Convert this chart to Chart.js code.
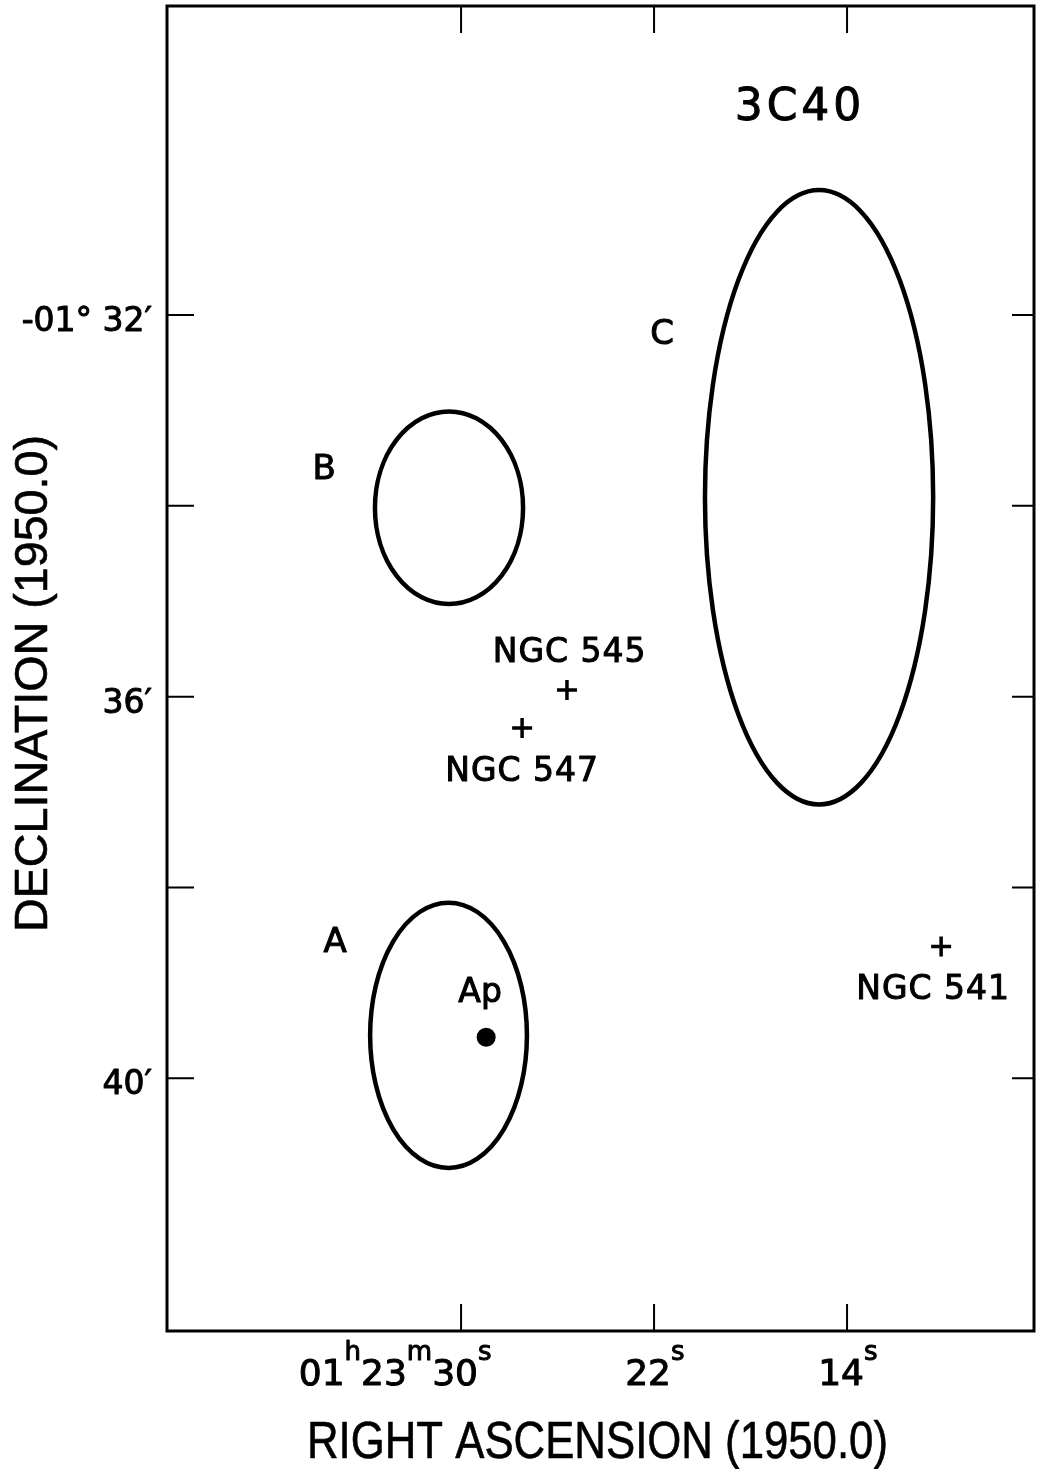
<!DOCTYPE html>
<html>
<head>
<meta charset="utf-8">
<script src="https://cdn.jsdelivr.net/npm/chart.js@4.4.1/dist/chart.umd.min.js"></script>
<style>
  body { margin: 0; background: #fff; }
  canvas { display: block; }
</style>
</head>
<body>
<canvas id="carte" width="1038" height="1469"></canvas>
<script>
// ascension droite : secondes de temps après 01h23m ; déclinaison : minutes d'arc sous -01°
const raTicks = [30, 22, 14];
const raTickLabels = ['01h23m30s', '22s', '14s'];
const decTicks = [32, 34, 36, 38, 40];
const decTickLabels = ['-01° 32′', '', '36′', '', '40′'];

// composantes radio A, B, C : centre et demi-axes
const compNames = ['A', 'B', 'C'];
const compRa = [30.52, 30.50, 15.16];
const compDec = [39.55, 34.02, 33.91];
const compHalfRa = [3.25, 3.07, 4.73];
const compHalfDec = [1.39, 1.01, 3.22];
const compLabelRa = [35.22, 35.68, 21.67];
const compLabelDec = [38.55, 33.59, 32.17];

// galaxies du champ
const ngcNames = ['NGC 545', 'NGC 547', 'NGC 541'];
const ngcRa = [25.61, 27.47, 10.10];
const ngcDec = [35.93, 36.33, 38.62];
const ngcLabelRa = [25.50, 27.47, 10.43];
const ngcLabelDec = [35.51, 36.76, 39.04];

// source ponctuelle Ap
const apRa = [28.96];
const apDec = [39.57];
const apLabel = { text: 'Ap', ra: 29.21, dec: 39.08 };

const sourceName = { text: '3C40', ra: 15.95, dec: 29.79 };

const FONT = '"DejaVu Sans", sans-serif';

// texte un peu épaissi (trait de normographe)
function inkText(ctx, txt, x, y, w) {
    ctx.lineWidth = w || 1;
    ctx.lineJoin = 'round';
    ctx.strokeText(txt, x, y);
    ctx.fillText(txt, x, y);
}

// texte centré sur la hauteur des capitales
function capText(ctx, txt, cx, cy, size, spacing) {
    ctx.font = size + 'px ' + FONT;
    ctx.letterSpacing = (spacing || 0) + 'px';
    ctx.textAlign = 'center';
    ctx.textBaseline = 'alphabetic';
    inkText(ctx, txt, cx, cy + 0.365 * size);
    ctx.letterSpacing = '0px';
}

// titre d'axe resserré horizontalement à une largeur donnée
function titleText(ctx, txt, cx, cy, size, width, angle) {
    ctx.save();
    ctx.translate(cx, cy);
    ctx.rotate(angle);
    ctx.font = size + 'px "Liberation Sans", sans-serif';
    const w = ctx.measureText(txt).width;
    ctx.scale(width / w, 1);
    ctx.textAlign = 'center';
    ctx.textBaseline = 'alphabetic';
    inkText(ctx, txt, 0, 0.36 * size, 0.6);
    ctx.restore();
}

// étiquette RA avec h, m, s en exposant
function raLabel(ctx, label, tickX, baseY) {
    const parts = [];
    label.replace(/(\d+)([hms])/g, (m, num, unit) => { parts.push([num, unit]); });
    const big = '36px ' + FONT, small = '26px ' + FONT;
    const widths = parts.map(([num, unit]) => {
        ctx.font = big; const a = ctx.measureText(num).width;
        ctx.font = small; const b = ctx.measureText(unit).width;
        return [a, b];
    });
    // le dernier nombre est placé sous la graduation
    let offset = 0;
    for (let i = 0; i < parts.length - 1; i++) offset += widths[i][0] + widths[i][1];
    const last = widths[parts.length - 1][0];
    let px = tickX - 6 - offset - last / 2;
    ctx.textAlign = 'left';
    ctx.textBaseline = 'alphabetic';
    parts.forEach(([num, unit], i) => {
        ctx.font = big; inkText(ctx, num, px, baseY);
        px += widths[i][0];
        ctx.font = small; inkText(ctx, unit, px, baseY - 25);
        px += widths[i][1];
    });
}

const cartePlugin = {
    id: 'cartePlugin',
    beforeDraw(chart) {
        const ctx = chart.ctx;
        ctx.save();
        ctx.fillStyle = '#fff';
        ctx.fillRect(0, 0, chart.width, chart.height);
        ctx.restore();
    },
    afterDatasetsDraw(chart) {
        const { ctx, chartArea: a, scales: { x, y } } = chart;
        ctx.save();
        ctx.strokeStyle = '#000';
        ctx.fillStyle = '#000';

        // cadre
        ctx.lineWidth = 3;
        ctx.strokeRect(a.left, a.top, a.right - a.left, a.bottom - a.top);

        // graduations intérieures sur les quatre côtés
        const tl = 27;
        ctx.lineWidth = 2;
        ctx.beginPath();
        raTicks.forEach(v => {
            const px = x.getPixelForValue(v);
            ctx.moveTo(px, a.top); ctx.lineTo(px, a.top + tl);
            ctx.moveTo(px, a.bottom); ctx.lineTo(px, a.bottom - tl);
        });
        decTicks.forEach(v => {
            const py = y.getPixelForValue(v);
            ctx.moveTo(a.left, py); ctx.lineTo(a.left + tl, py);
            ctx.moveTo(a.right, py); ctx.lineTo(a.right - 22, py);
        });
        ctx.stroke();

        // ellipses des composantes
        ctx.lineWidth = 4.5;
        compRa.forEach((ra, i) => {
            const cx = x.getPixelForValue(ra);
            const cy = y.getPixelForValue(compDec[i]);
            const rx = Math.abs(x.getPixelForValue(ra + compHalfRa[i]) - cx);
            const ry = Math.abs(y.getPixelForValue(compDec[i] + compHalfDec[i]) - cy);
            ctx.beginPath();
            ctx.ellipse(cx, cy, rx, ry, 0, 0, 2 * Math.PI);
            ctx.stroke();
        });

        // étiquettes dans le champ
        compNames.forEach((n, i) => {
            capText(ctx, n, x.getPixelForValue(compLabelRa[i]), y.getPixelForValue(compLabelDec[i]), 34);
        });
        ngcNames.forEach((n, i) => {
            capText(ctx, n, x.getPixelForValue(ngcLabelRa[i]), y.getPixelForValue(ngcLabelDec[i]), 33, 1);
        });
        capText(ctx, apLabel.text, x.getPixelForValue(apLabel.ra), y.getPixelForValue(apLabel.dec), 33);
        capText(ctx, sourceName.text, x.getPixelForValue(sourceName.ra), y.getPixelForValue(sourceName.dec), 44, 4);

        // étiquettes des axes
        raTicks.forEach((v, i) => raLabel(ctx, raTickLabels[i], x.getPixelForValue(v), a.bottom + 54));
        ctx.font = '33px ' + FONT;
        ctx.textAlign = 'right';
        ctx.textBaseline = 'alphabetic';
        decTicks.forEach((v, i) => {
            if (decTickLabels[i]) inkText(ctx, decTickLabels[i], a.left - 15, y.getPixelForValue(v) + 16);
        });

        titleText(ctx, 'RIGHT ASCENSION (1950.0)', (a.left + a.right) / 2 - 3, a.bottom + 109, 51, 581, 0);
        titleText(ctx, 'DECLINATION (1950.0)', a.left - 137, (a.top + a.bottom) / 2 + 15, 47, 497, -Math.PI / 2);
        ctx.restore();
    }
};

const ctx = document.getElementById('carte').getContext('2d');
new Chart(ctx, {
    type: 'scatter',
    data: {
        datasets: [
            {
                label: 'NGC',
                data: ngcRa.map((ra, i) => ({ x: ra, y: ngcDec[i] })),
                pointStyle: 'cross',
                pointRadius: 10,
                borderColor: '#000',
                borderWidth: 3.5
            },
            {
                label: 'Ap',
                data: apRa.map((ra, i) => ({ x: ra, y: apDec[i] })),
                pointStyle: 'circle',
                pointRadius: 9.5,
                backgroundColor: '#000',
                borderColor: '#000',
                borderWidth: 0
            }
        ]
    },
    options: {
        responsive: false,
        animation: false,
        devicePixelRatio: 1,
        layout: { autoPadding: false, padding: { left: 167, right: 4, top: 6, bottom: 138 } },
        plugins: { legend: { display: false }, tooltip: { enabled: false } },
        scales: {
            x: {
                type: 'linear', display: false, reverse: true, min: 6.25, max: 42.19,
                afterBuildTicks: s => { s.ticks = raTicks.map(v => ({ value: v })); }
            },
            y: {
                type: 'linear', display: false, reverse: true, min: 28.76, max: 42.65,
                afterBuildTicks: s => { s.ticks = decTicks.map(v => ({ value: v })); }
            }
        }
    },
    plugins: [cartePlugin]
});
</script>
</body>
</html>
